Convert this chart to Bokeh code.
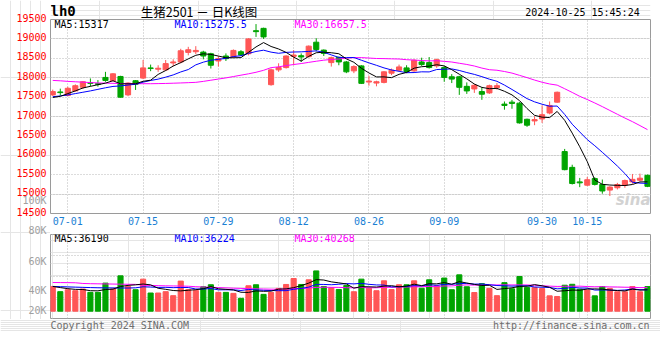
from bokeh.plotting import figure
from bokeh.models import FixedTicker, Range1d, ColumnDataSource, Grid
from bokeh.layouts import column, row
from bokeh.core.properties import value
from bokeh.embed import file_html
from bokeh.resources import INLINE

# ---------------- data ----------------
dates = ["06-27", "06-28",
         "07-01", "07-02", "07-03", "07-04", "07-05", "07-08", "07-09", "07-10", "07-11", "07-12",
         "07-15", "07-16", "07-17", "07-18", "07-19", "07-22", "07-23", "07-24", "07-25", "07-26",
         "07-29", "07-30", "07-31", "08-01", "08-02", "08-05", "08-06", "08-07", "08-08", "08-09",
         "08-12", "08-13", "08-14", "08-15", "08-16", "08-19", "08-20", "08-21", "08-22", "08-23",
         "08-26", "08-27", "08-28", "08-29", "08-30", "09-02", "09-03", "09-04", "09-05", "09-06",
         "09-09", "09-10", "09-11", "09-12", "09-13", "09-18", "09-19", "09-20",
         "09-23", "09-24", "09-25", "09-26", "09-27", "09-30",
         "10-08", "10-09", "10-10", "10-11", "10-14", "10-15", "10-16", "10-17", "10-18",
         "10-21", "10-22", "10-23", "10-24", "10-25"]

opens = [17557, 17633, 17540, 17659, 17752, 17871, 17845, 18007, 17922, 18032,
         17557, 17922, 17990, 18253, 18219, 18202, 18380, 18406, 18652, 18669,
         18660, 18618, 18431, 18559, 18542, 18669, 18618, 19212, 19272, 17820,
         18202, 18261, 18550, 18567, 18542, 18915, 18711, 18389, 18525, 18406,
         18176, 18304, 17888, 17862, 17879, 18117, 18193, 18253, 18176, 18406,
         18389, 18304, 18261, 18024, 18024, 17777, 17710, 17642, 17608, 17743,
         17319, 17370, 17344, 16928, 16886, 16937, 17090, 17370, 16096, 15689,
         15315, 15230, 15400, 15247, 15103, 15163, 15230, 15315, 15358, 15485]
highs = [17693, 17718, 17769, 17828, 17913, 17981, 17939, 18151, 18117, 18049,
         17879, 17939, 18457, 18338, 18321, 18457, 18474, 18745, 18796, 18813,
         18694, 18643, 18559, 18626, 18728, 18711, 19017, 19382, 19289, 18236,
         18372, 18576, 18711, 18626, 18830, 19017, 18728, 18542, 18542, 18431,
         18321, 18321, 18049, 17922, 18168, 18236, 18338, 18321, 18474, 18516,
         18533, 18491, 18304, 18092, 18049, 17879, 17837, 17752, 17820, 17862,
         17387, 17429, 17370, 16945, 17005, 17285, 17387, 17642, 16164, 15757,
         15417, 15443, 15434, 15375, 15205, 15290, 15375, 15519, 15528, 15502]
lows = [17531, 17540, 17523, 17642, 17710, 17778, 17769, 17896, 17905, 17489,
        17523, 17684, 17964, 18168, 18151, 18176, 18295, 18372, 18576, 18609,
        18474, 18236, 18287, 18431, 18508, 18559, 18576, 19051, 19000, 17794,
        18151, 18236, 18321, 18406, 18516, 18677, 18559, 18287, 18321, 18117,
        18117, 17837, 17794, 17778, 17854, 18066, 18176, 18117, 18151, 18304,
        18236, 18253, 17896, 17862, 17557, 17582, 17608, 17429, 17582, 17693,
        17175, 17200, 16818, 16733, 16776, 16835, 17056, 17353, 15613, 15247,
        15179, 15205, 15222, 15010, 14950, 15120, 15163, 15264, 15332, 15180]
closes = [17642, 17616, 17727, 17794, 17896, 17854, 17828, 17930, 18100, 17497,
          17862, 17828, 18253, 18236, 18244, 18363, 18406, 18694, 18720, 18703,
          18559, 18321, 18491, 18491, 18703, 18584, 19000, 19187, 19051, 18202,
          18261, 18559, 18584, 18533, 18813, 18728, 18626, 18516, 18406, 18151,
          18287, 17854, 17913, 17896, 18151, 18193, 18278, 18159, 18448, 18338,
          18261, 18465, 18007, 17964, 17752, 17659, 17803, 17574, 17794, 17794,
          17285, 17336, 16835, 16776, 16920, 17047, 17285, 17625, 15630, 15273,
          15290, 15370, 15250, 15080, 15180, 15247, 15349, 15380, 15410, 15200]
volumes = [41900, 33100, 36400, 34700, 37600, 31900, 31900, 47600, 37600, 59900,
           41900, 36400, 54300, 30800, 30800, 33100, 26300, 51000, 36400, 35200,
           41400, 44800, 31900, 31900, 30200, 21800, 43100, 44800, 28500, 31900,
           38600, 45300, 55400, 45300, 53200, 68300, 41900, 40000, 36800, 43700,
           33000, 54300, 38900, 34700, 51500, 36600, 44800, 44800, 51500, 38900,
           53200, 43100, 56200, 36400, 61600, 41400, 31600, 46700, 38600, 26300,
           48400, 38000, 58800, 40000, 40000, 38300, 26000, 24900, 44000, 45600,
           37200, 36100, 26000, 41700, 38300, 32800, 32800, 41700, 32800, 41700]

ma5_head = [17490, 17520, 17590, 17660]
ma10_head = [17510, 17530, 17555, 17590, 17625, 17660, 17700, 17740, 17775]
ma30_head = [17930, 17920, 17905, 17895, 17885, 17875, 17865, 17860, 17855, 17850,
             17848, 17846, 17845, 17845, 17848, 17852, 17858, 17865, 17872, 17880,
             17905, 17935, 17965, 17995, 18030, 18065, 18100, 18140, 18190]
vma5_head = [42000, 40000, 38200, 37000]
vma10_head = [42000, 41600, 41200, 40800, 40400, 40000, 39700, 39500, 39400]
vma30_head = [48600, 48500, 48400, 48200, 47000, 46600, 46400, 46200, 46000, 45800,
              45600, 45400, 44000, 43600, 43300, 43000, 42800, 42600, 42300, 41500,
              41000, 40500, 40000, 39500, 39000, 38600, 38200, 37900, 37600]

price_ticks = [14500, 15000, 15500, 16000, 16500, 17000, 17500, 18000, 18500, 19000, 19500]
date_ticks = ["07-01", "07-15", "07-29", "08-12", "08-26", "09-09", "09-30", "10-15"]
vol_tick_labels = ["100K", "80K", "60K", "40K", "20K"]

title_text = "生猪2501 － 日K线图"
code_text = "lh0"
time_text = "2024-10-25 15:45:24"
price_legend = ["MA5:15317", "MA10:15275.5", "MA30:16657.5"]
vol_legend = ["MA5:36190", "MA10:36224", "MA30:40268"]
copyright_text = "Copyright 2024 SINA.COM"
url_text = "http://finance.sina.com.cn"

# ---------------- derived ----------------
N = len(dates)
idx = list(range(N))


def moving_avg(vals, n, head):
    out = []
    for i in range(len(vals)):
        if i < n - 1:
            out.append(head[i])
        else:
            out.append(sum(vals[i - n + 1:i + 1]) / n)
    return out


RED = "#ff5656"
GREEN = "#00a400"
colors = [RED if c >= o else GREEN for o, c in zip(opens, closes)]
src = ColumnDataSource(dict(
    x=idx, open=opens, high=highs, low=lows, close=closes,
    top=[max(o, c) for o, c in zip(opens, closes)],
    bottom=[min(o, c) for o, c in zip(opens, closes)],
    color=colors, vol=volumes,
))

MONO = "DejaVu Sans Mono"
GRID = "#b8b8b8"
FRAME = "#9a9a9a"
FS = "10px"
LEG_COLORS = ["#000000", "#0000ff", "#ff00ff"]

# layout (page pixels)
W = 660
LEFT = 50                      # width of the left label strip
FRAME_L, FRAME_R = 50, 650
HEAD_H = 19
P_TOP, P_BOT = 19, 213
DATE_H = 20
V_TOP, V_BOT = 234, 318
MID_BOT = 319
FOOT_BOT = 332

x_range = Range1d(-0.3, N - 0.6)
p_range = Range1d(price_ticks[0], price_ticks[-1])
v_range = Range1d(-12400, 130000)
P_PER_PX = (p_range.end - p_range.start) / (P_BOT - P_TOP)
V_PER_PX = (v_range.end - v_range.start) / (V_BOT - V_TOP)


def px_x(xp):
    return x_range.start + (xp - FRAME_L) * (x_range.end - x_range.start) / (FRAME_R - FRAME_L)


def px_price(yp):
    return p_range.start + (P_BOT - yp) * P_PER_PX


def px_vol(yp):
    return v_range.start + (V_BOT - yp) * V_PER_PX


def bare(p):
    p.outline_line_color = None
    p.background_fill_color = "white"
    p.border_fill_color = "white"
    return p


date_tick_pos = [dates.index(d) for d in date_ticks]
xticker = FixedTicker(ticks=date_tick_pos)

# ---------------- header strip (right of the label strip) ----------------
ph = bare(figure(width=W - LEFT, height=HEAD_H, x_range=Range1d(LEFT, W), y_range=Range1d(HEAD_H, 0),
                 output_backend="svg", toolbar_location=None, min_border=0,
                 x_axis_location=None, y_axis_location=None))
ph.text(x=[50], y=[10.5], text=[code_text], text_font=value(MONO), text_font_style="bold",
        text_font_size="14px", text_color="#000000", text_align="left", text_baseline="middle")
ph.text(x=[201], y=[10.5], text=[title_text], text_font=value("Noto Sans CJK SC"),
        text_font_size="12.5px", text_color="#000000", text_align="center", text_baseline="middle")
ph.text(x=[649], y=[11.5], text=[time_text], text_font=value(MONO), text_font_size=FS,
        text_color="#000000", text_align="right", text_baseline="middle")

# ---------------- left label strip (price ticks and the volume labels) ----------------
lf = bare(figure(width=LEFT, height=MID_BOT, x_range=Range1d(0, LEFT),
                 y_range=Range1d(px_price(MID_BOT), px_price(0)),
                 output_backend="svg", toolbar_location=None, min_border=0,
                 x_axis_location=None, y_axis_location=None))
lf.text(x=[46] * len(price_ticks), y=price_ticks, text=[str(t) for t in price_ticks],
        text_font=value(MONO), text_font_size=FS, text_color="#ff0000",
        text_align="right", text_baseline="middle", y_offset=-2)
vol_label_y = [200, 230, 261, 290, 310]
lf.text(x=[46] * len(vol_tick_labels), y=[px_price(v) for v in vol_label_y], text=vol_tick_labels,
        text_font=value(MONO), text_font_size=FS, text_color="#a0a0a0",
        text_align="right", text_baseline="middle")

# ---------------- price panel ----------------
p1 = figure(width=W - LEFT, height=(P_BOT - P_TOP) + DATE_H, x_range=x_range, y_range=p_range,
            output_backend="svg", toolbar_location=None, y_axis_location=None,
            min_border_left=FRAME_L - LEFT, min_border_right=W - FRAME_R, min_border_top=0,
            min_border_bottom=DATE_H)
p1.background_fill_color = "white"
p1.border_fill_color = "white"
p1.outline_line_color = FRAME
p1.outline_line_width = 1

p1.xaxis.ticker = xticker
p1.xaxis.major_label_overrides = {i: d for i, d in zip(date_tick_pos, date_ticks)}
p1.xaxis.major_label_text_color = "#1a7fd4"
p1.xaxis.major_label_text_font = MONO
p1.xaxis.major_label_text_font_size = FS
p1.xaxis.axis_line_color = None
p1.xaxis.major_tick_line_color = None
p1.xaxis.minor_tick_line_color = None
p1.xaxis.major_tick_out = 0
p1.xaxis.major_tick_in = 0
p1.xaxis.major_label_standoff = 3

p1.xgrid.grid_line_color = GRID
p1.xgrid.grid_line_dash = "1 2"
p1.add_layout(Grid(dimension=1, ticker=FixedTicker(ticks=price_ticks), grid_line_color=GRID,
                   grid_line_dash="1 2"))

p1.segment(x0="x", y0="low", x1="x", y1="high", line_color="color", line_width=1, source=src)
p1.vbar(x="x", width=0.68, top="top", bottom="bottom", fill_color="color",
        line_color="color", line_width=1, source=src)

ma5 = moving_avg(closes, 5, ma5_head)
ma10 = moving_avg(closes, 10, ma10_head)
ma30 = moving_avg(closes, 30, ma30_head)
p1.line(idx, ma30, line_color="#ff00ff", line_width=1)
p1.line(idx, ma10, line_color="#0000ff", line_width=1)
p1.line(idx, ma5, line_color="#000000", line_width=1)

leg_x = [54, 174, 294]
p1.text(x=[px_x(v) for v in leg_x], y=[px_price(24)] * 3, text=price_legend, text_color=LEG_COLORS,
        text_font=value(MONO), text_font_size=FS, text_align="left", text_baseline="middle")
p1.text(x=[px_x(650)], y=[px_price(199)], text=["sina"], text_color="#d2d2d2",
        text_font=value("DejaVu Sans"), text_font_style="bold italic", text_font_size="15px",
        text_align="right", text_baseline="middle")

# ---------------- volume panel ----------------
p2 = figure(width=W - LEFT, height=MID_BOT - (P_BOT + DATE_H), x_range=x_range, y_range=v_range,
            output_backend="svg", toolbar_location=None,
            x_axis_location=None, y_axis_location=None,
            min_border_left=FRAME_L - LEFT, min_border_right=W - FRAME_R,
            min_border_top=V_TOP - (P_BOT + DATE_H), min_border_bottom=MID_BOT - V_BOT)
p2.background_fill_color = "white"
p2.border_fill_color = "white"
p2.outline_line_color = FRAME
p2.outline_line_width = 1

vgrid_ticks = [v_range.start + k * (v_range.end - v_range.start) / 4 for k in (1, 2, 3)]
p2.add_layout(Grid(dimension=0, ticker=xticker, grid_line_color=GRID, grid_line_dash="1 2"))
p2.add_layout(Grid(dimension=1, ticker=FixedTicker(ticks=vgrid_ticks), grid_line_color=GRID,
                   grid_line_dash="1 2"))

p2.vbar(x="x", width=0.68, top="vol", bottom=0, fill_color="color", line_color="color",
        line_width=1, source=src)
vma5 = moving_avg(volumes, 5, vma5_head)
vma10 = moving_avg(volumes, 10, vma10_head)
vma30 = moving_avg(volumes, 30, vma30_head)
p2.line(idx, vma30, line_color="#ff00ff", line_width=1)
p2.line(idx, vma10, line_color="#0000ff", line_width=1)
p2.line(idx, vma5, line_color="#000000", line_width=1)

p2.text(x=[px_x(v) for v in leg_x], y=[px_vol(238)] * 3, text=vol_legend, text_color=LEG_COLORS,
        text_font=value(MONO), text_font_size=FS, text_align="left", text_baseline="middle")

# ---------------- footer strip ----------------
pf = bare(figure(width=W, height=FOOT_BOT - MID_BOT, x_range=Range1d(0, W),
                 y_range=Range1d(FOOT_BOT, MID_BOT),
                 output_backend="svg", toolbar_location=None, min_border=0,
                 x_axis_location=None, y_axis_location=None))
pf.text(x=[50], y=[324.5], text=[copyright_text], text_font=value(MONO), text_font_size=FS,
        text_color="#6e6e6e", text_align="left", text_baseline="middle")
pf.text(x=[649], y=[324.5], text=[url_text], text_font=value(MONO), text_font_size=FS,
        text_color="#6e6e6e", text_align="right", text_baseline="middle")

right_col = column(ph, p1, p2, spacing=0)
layout = column(row(lf, right_col, spacing=0), pf, spacing=0)
open("out.html", "w").write(file_html(layout, INLINE))
